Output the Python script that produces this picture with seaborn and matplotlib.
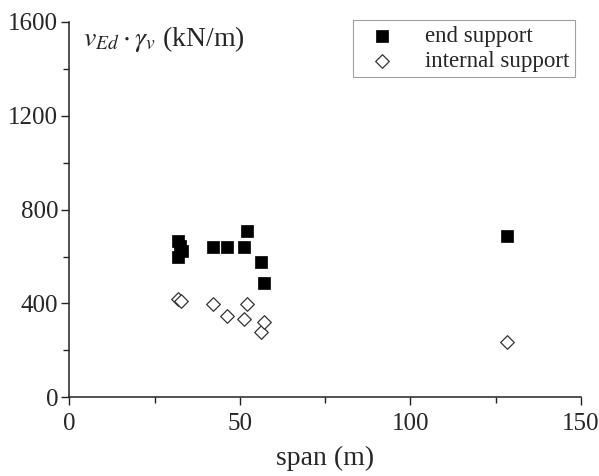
import pandas as pd
import seaborn as sns
import matplotlib.pyplot as plt
from matplotlib.ticker import MultipleLocator

end_span = [32.0, 32.5, 33.0, 32.0, 42.2, 46.1, 51.2, 52.2, 56.2, 57.2, 128.4]
end_v = [665, 645, 625, 600, 641, 640, 641, 711, 577, 486, 686]

int_span = [32.0, 32.6, 42.1, 46.2, 51.2, 52.2, 56.1, 57.2, 128.4]
int_v = [420, 410, 397, 347, 333, 398, 277, 319, 234]

df_end = pd.DataFrame({"span": end_span, "v": end_v})
df_int = pd.DataFrame({"span": int_span, "v": int_v})

sns.set_style("ticks")
plt.rcParams["font.family"] = ["Liberation Serif", "DejaVu Serif"]
plt.rcParams["mathtext.fontset"] = "stix"

fig = plt.figure(figsize=(5.99, 4.76), dpi=100)
ax = fig.add_axes([0.1157, 0.1653, 0.8543, 0.7885])

sns.scatterplot(data=df_end, x="span", y="v", marker="s", s=64,
                color="black", edgecolor="black", linewidth=0.5,
                label="end support", ax=ax)
sns.scatterplot(data=df_int, x="span", y="v", marker="D", s=48,
                facecolor="white", edgecolor="#333333", linewidth=0.9,
                label="internal support", ax=ax)

ax.set_xlim(0, 150)
ax.set_ylim(0, 1600)
ax.xaxis.set_major_locator(MultipleLocator(50))
ax.xaxis.set_minor_locator(MultipleLocator(25))
ax.yaxis.set_major_locator(MultipleLocator(400))
ax.yaxis.set_minor_locator(MultipleLocator(200))
ax.tick_params(which="major", length=6, width=1, labelsize=18, color="#222222")
ax.tick_params(which="minor", length=4, width=1, color="#222222")
ax.tick_params(axis="x", pad=5)
ax.tick_params(axis="y", pad=2)
for sp in ["left", "bottom"]:
    ax.spines[sp].set_color("#222222")
    ax.spines[sp].set_linewidth(1.1)
sns.despine(ax=ax)

ax.set_xlabel("span (m)", fontsize=20, labelpad=8)
ax.set_ylabel("")
ax.text(0.027, 0.995, r"$v_{Ed}\cdot\gamma_v$ (kN/m)", transform=ax.transAxes,
        fontsize=20, va="top", ha="left")

leg = ax.legend(loc="upper right", bbox_to_anchor=(1.011, 1.035), fontsize=16.5,
                frameon=True, fancybox=False, edgecolor="#888888",
                handletextpad=0.9, borderpad=0.25, labelspacing=0.15,
                handlelength=2.0)
leg.get_frame().set_linewidth(0.8)

fig.savefig("out.png", dpi=100)
